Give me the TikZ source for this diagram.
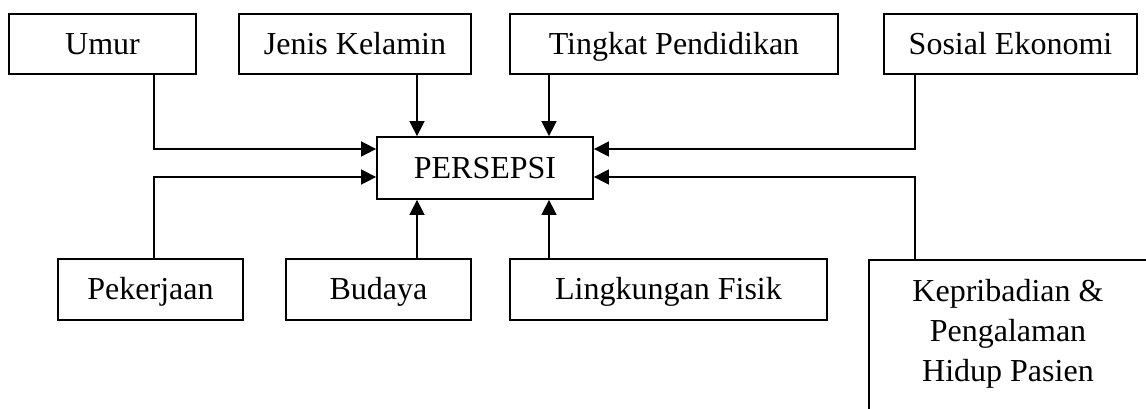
\documentclass[tikz,border=0pt]{standalone}
\usepackage{fontspec}
\setmainfont{Liberation Serif}
\usetikzlibrary{arrows.meta}
\begin{document}
\begin{tikzpicture}[x=0.5pt,y=-0.5pt,
  every node/.style={font=\fontsize{16}{20}\selectfont},
  box/.style={draw, line width=0.9pt, inner sep=0pt, minimum height=30pt, text height=12pt, text depth=2pt},
  arr/.style={line width=0.8pt, -{Triangle[length=7.5pt,width=7.5pt]}}]
\useasboundingbox (0,0) rectangle (1146,408);
\clip (0,0) rectangle (1146,408);
\fill[white] (0,0) rectangle (1146,408);
% reference coordinates
\coordinate (L) at (154,0);
\coordinate (R) at (915,0);
\coordinate (A1) at (0,149);
\coordinate (A2) at (0,177);
\coordinate (X1) at (417,0);
\coordinate (X2) at (549,0);
% top row
\node[box, minimum width=93.5pt] (umur) at (102.5,44) {Umur};
\node[box, minimum width=116pt] (jenis) at (355,44) {Jenis Kelamin};
\node[box, minimum width=164pt] (tingkat) at (674,44) {Tingkat Pendidikan};
\node[box, minimum width=126.5pt] (sosial) at (1010.5,44) {Sosial Ekonomi};
% centre
\node[box, minimum width=108pt, minimum height=31pt] (persepsi) at (485,168) {PERSEPSI};
% bottom row
\node[box, minimum width=92.5pt, minimum height=30.5pt] (pekerjaan) at (150.5,289.5) {Pekerjaan};
\node[box, minimum width=92.5pt, minimum height=30.5pt] (budaya) at (378.5,289.5) {Budaya};
\node[box, minimum width=158.5pt, minimum height=30.5pt] (lingkungan) at (668.5,289.5) {Lingkungan Fisik};
\node[draw, line width=0.9pt, minimum width=142pt, minimum height=85pt, anchor=north west] (kep) at (868,259) {};
\node[align=center] (keptext) at (1008,334) {Kepribadian \&\\Pengalaman\\Hidup Pasien};
% connectors
\draw[arr] (umur.south -| L) |- (persepsi.west |- A1);
\draw[arr] (pekerjaan.north -| L) |- (persepsi.west |- A2);
\draw[arr] (sosial.south -| R) |- (persepsi.east |- A1);
\draw[arr] (kep.north -| R) |- (persepsi.east |- A2);
\draw[arr] (jenis.south -| X1) -- (persepsi.north -| X1);
\draw[arr] (tingkat.south -| X2) -- (persepsi.north -| X2);
\draw[arr] (budaya.north -| X1) -- (persepsi.south -| X1);
\draw[arr] (lingkungan.north -| X2) -- (persepsi.south -| X2);
\end{tikzpicture}
\end{document}
